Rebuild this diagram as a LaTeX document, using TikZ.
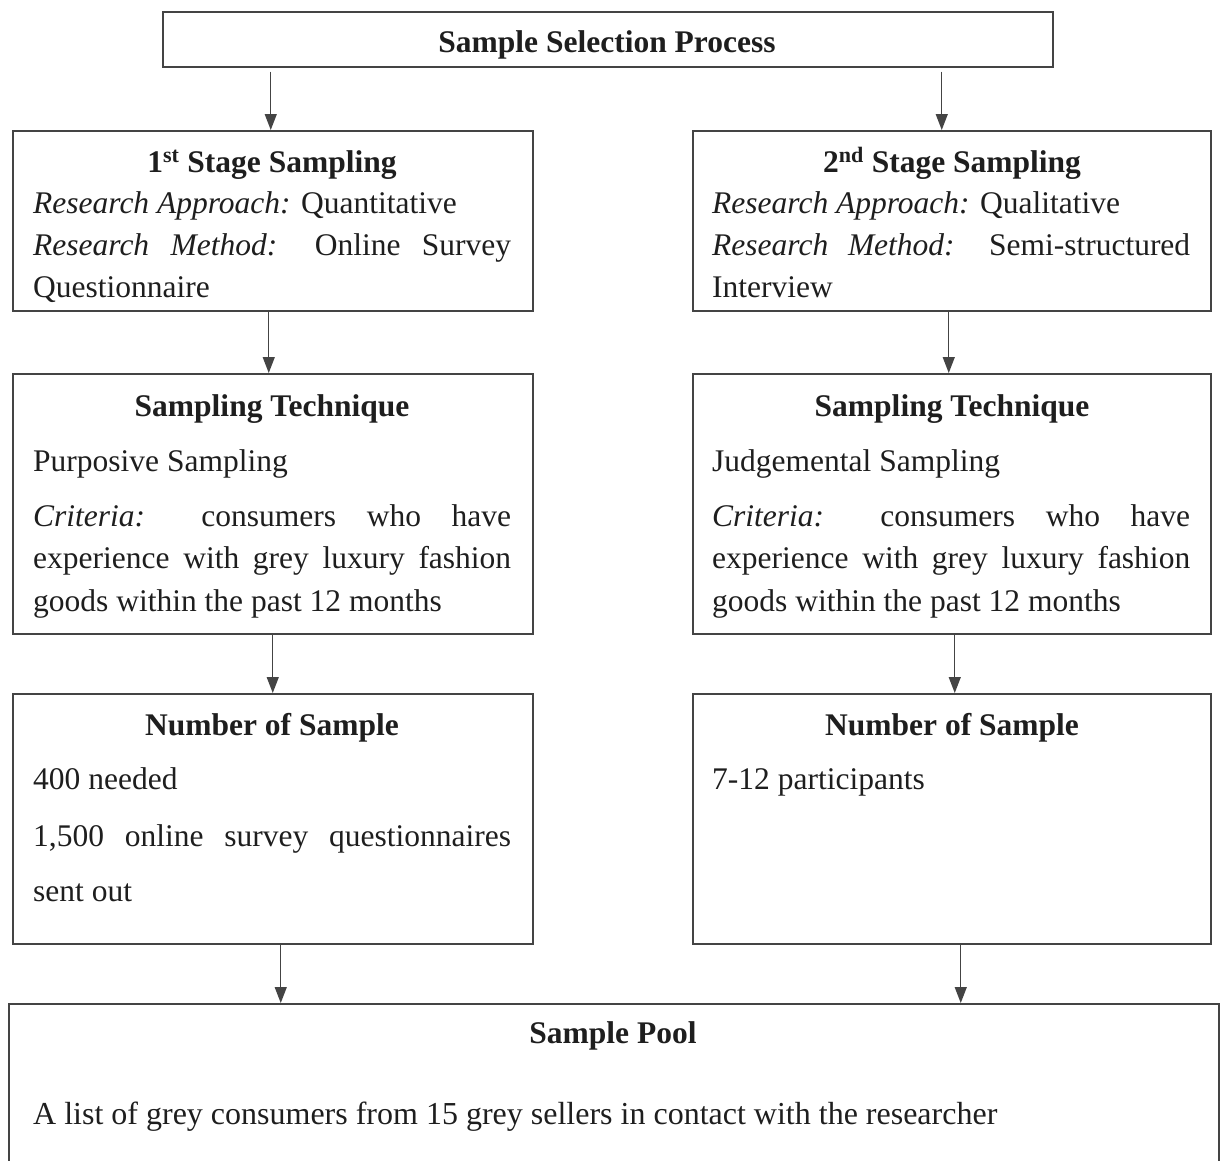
\documentclass[tikz,border=0pt]{standalone}
\usepackage{fontspec}
\setmainfont{Liberation Serif}
\usetikzlibrary{arrows.meta}
\definecolor{ink}{HTML}{1E1E1E}
\definecolor{rule}{HTML}{444444}
\newcommand{\jline}[1]{\makebox[478pt][s]{#1}}
\begin{document}
\begin{tikzpicture}[x=1pt,y=-1pt,
  box/.style={draw=rule,line width=1.5pt,rectangle,anchor=north west,inner sep=0pt},
  txt/.style={inner sep=0pt,anchor=base west,text=ink,font=\fontsize{31.5}{42}\selectfont},
  ttl/.style={inner sep=0pt,anchor=base,text=ink,font=\fontsize{31.5}{42}\selectfont\bfseries},
  arr/.style={draw=rule,line width=1.3pt,-{Triangle[length=16pt,width=12pt]}}]
\useasboundingbox (0,0) rectangle (1220,1160);
\begin{scope}
\clip (0,0) rectangle (1220,1160);

% boxes
\node[box,minimum width=890pt,minimum height=55pt] (top) at (162,11) {};
\node[box,minimum width=520pt,minimum height=180pt] (s1) at (12,130) {};
\node[box,minimum width=518pt,minimum height=180pt] (s2) at (692,130) {};
\node[box,minimum width=520pt,minimum height=260pt] (t1) at (12,373) {};
\node[box,minimum width=518pt,minimum height=260pt] (t2) at (692,373) {};
\node[box,minimum width=520pt,minimum height=250pt] (n1) at (12,693) {};
\node[box,minimum width=518pt,minimum height=250pt] (n2) at (692,693) {};
\node[box,minimum width=1210pt,minimum height=200pt] (pool) at (8,1003) {};

% texts
\node[ttl] (toptxt) at (607,52) {Sample Selection Process};

\node[ttl] (s1t) at (272,172) {1\textsuperscript{st} Stage Sampling};
\node[txt] (s1a) at (33,213) {\textit{Research Approach:} Quantitative};
\node[txt] (s1b) at (33,255) {\jline{\textit{Research} \textit{Method:} Online Survey}};
\node[txt] (s1c) at (33,297) {Questionnaire};

\node[ttl] (s2t) at (952,172) {2\textsuperscript{nd} Stage Sampling};
\node[txt] (s2a) at (712,213) {\textit{Research Approach:} Qualitative};
\node[txt] (s2b) at (712,255) {\jline{\textit{Research} \textit{Method:} Semi-structured}};
\node[txt] (s2c) at (712,297) {Interview};

\node[ttl] (t1t) at (272,416) {Sampling Technique};
\node[txt] (t1a) at (33,471) {Purposive Sampling};
\node[txt] (t1b) at (33,526) {\jline{\textit{Criteria:} consumers who have}};
\node[txt] (t1c) at (33,568) {\jline{experience with grey luxury fashion}};
\node[txt] (t1d) at (33,611) {goods within the past 12 months};

\node[ttl] (t2t) at (952,416) {Sampling Technique};
\node[txt] (t2a) at (712,471) {Judgemental Sampling};
\node[txt] (t2b) at (712,526) {\jline{\textit{Criteria:} consumers who have}};
\node[txt] (t2c) at (712,568) {\jline{experience with grey luxury fashion}};
\node[txt] (t2d) at (712,611) {goods within the past 12 months};

\node[ttl] (n1t) at (272,735) {Number of Sample};
\node[txt] (n1a) at (33,789) {400 needed};
\node[txt] (n1b) at (33,846) {\jline{1,500 online survey questionnaires}};
\node[txt] (n1c) at (33,901) {sent out};

\node[ttl] (n2t) at (952,735) {Number of Sample};
\node[txt] (n2a) at (712,789) {7-12 participants};

\node[ttl] (pt) at (613,1043) {Sample Pool};
\node[txt,font=\fontsize{32}{42}\selectfont] (pa) at (33,1124) {A list of grey consumers from 15 grey sellers in contact with the researcher};

% arrow anchor points
\coordinate (a1) at ([xshift=-2pt]s1.north);
\coordinate (a2) at ([xshift=-10pt]s2.north);
\coordinate (b1) at ([xshift=8pt]n1.south);
\coordinate (b2) at ([xshift=9pt]n2.south);
\coordinate (topb) at ([yshift=-4pt]top.south);

% connectors
\draw[arr] (topb -| a1) -- (a1);
\draw[arr] (topb -| a2) -- (a2);
\draw[arr] ([xshift=-4pt]s1.south) -- ([xshift=-4pt]t1.north);
\draw[arr] ([xshift=-3pt]s2.south) -- ([xshift=-3pt]t2.north);
\draw[arr] (t1.south) -- (n1.north);
\draw[arr] ([xshift=3pt]t2.south) -- ([xshift=3pt]n2.north);
\draw[arr] (b1) -- (pool.north -| b1);
\draw[arr] (b2) -- (pool.north -| b2);
\end{scope}
\end{tikzpicture}
\end{document}
